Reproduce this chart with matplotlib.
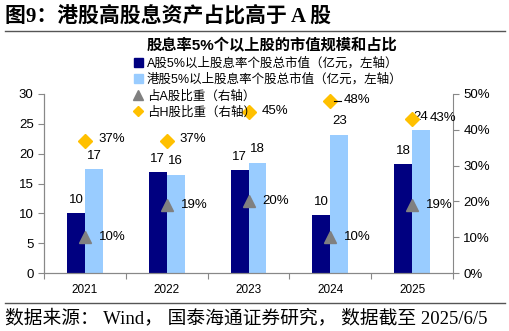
import numpy as np
import matplotlib.pyplot as plt
from matplotlib.lines import Line2D
from matplotlib.patches import Patch

years = ['2021', '2022', '2023', '2024', '2025']
a_cap = [10.1, 16.9, 17.3, 9.7, 18.3]
h_cap = [17.4, 16.5, 18.5, 23.2, 24.0]
a_share = [10, 19, 20, 10, 19]
h_share = [37, 37, 45, 48, 43]
a_cap_lbl = ['10', '17', '17', '10', '18']
h_cap_lbl = ['17', '16', '18', '23', '24']

cjk = ['Liberation Sans', 'Noto Sans CJK SC']
serif = ['Liberation Serif', 'Noto Sans CJK SC']
plt.rcParams['font.family'] = cjk

fig = plt.figure(figsize=(5.1, 3.31), dpi=100)
ax = fig.add_axes([44/510, 1-273/331, 409/510, 179/331])
ax2 = ax.twinx()

x = np.arange(len(years))
w = 0.22
ax.bar(x - w/2, a_cap, w, color='#000080', zorder=2)
ax.bar(x + w/2, h_cap, w, color='#99CCFF', zorder=2)
for i in x:
    ax.text(i - w/2, a_cap[i] + 1.2, a_cap_lbl[i], ha='center', va='bottom', fontsize=9.5)
    ax.text(i + w/2, h_cap[i] + 1.2, h_cap_lbl[i], ha='center', va='bottom', fontsize=9.5)

ax2.plot(x, a_share, linestyle='none', marker='^', color='#808080', markersize=9, zorder=3)
ax2.plot(x, h_share, linestyle='none', marker='D', color='#FFC000', markersize=7, zorder=3)
h_off = [0.16, 0.16, 0.16, 0.16, 0.22]
for i in x:
    ax2.text(i + 0.17, a_share[i], '%d%%' % a_share[i], va='center', fontsize=9.5)
    ax2.text(i + h_off[i], h_share[i] + 0.3, '%d%%' % h_share[i], va='center', fontsize=9.5)
# short leader line next to the 2024 diamond
ax2.plot([3.05, 3.13], [48, 48], color='black', lw=0.8, zorder=4)

ax.set_xlim(-0.5, 4.5)
ax.set_ylim(0, 30)
ax.set_yticks(range(0, 31, 5))
ax2.set_ylim(0, 50)
ax2.set_yticks(range(0, 51, 10))
ax2.set_yticklabels(['%d%%' % v for v in range(0, 51, 10)])
ax.set_xticks(np.arange(-0.5, 5, 1))
ax.set_xticklabels([])
ax.set_xticks(x, minor=True)
ax.set_xticklabels(years, minor=True)
ax.tick_params(axis='x', which='minor', length=0, pad=8, labelsize=8.5)
ax.tick_params(axis='x', which='major', length=4, color='#888888')
ax.tick_params(axis='y', length=4, color='#888888', labelsize=9.5)
ax2.tick_params(axis='y', length=4, color='#888888', labelsize=9.5)
for a in (ax, ax2):
    a.spines['top'].set_visible(False)
    for s in ('left', 'right', 'bottom'):
        a.spines[s].set_color('#888888')
ax.spines['right'].set_visible(False)

handles = [
    Patch(color='#000080', label='A股5%以上股息率个股总市值（亿元，左轴）'),
    Patch(color='#99CCFF', label='港股5%以上股息率个股总市值（亿元，左轴）'),
    Line2D([], [], linestyle='none', marker='^', color='#808080', markersize=7, label='占A股比重（右轴）'),
    Line2D([], [], linestyle='none', marker='D', color='#FFC000', markersize=5, label='占H股比重（右轴）'),
]
leg = ax2.legend(handles=handles, loc='upper left', bbox_to_anchor=(0.205, 1.24), frameon=False,
                 fontsize=9, handlelength=0.7, handleheight=0.7, handletextpad=0.3, labelspacing=0.32,
                 borderpad=0)

fig.text(5/510, 1-16/331, '图9：港股高股息资产占比高于 A 股', fontsize=15, fontweight='bold',
         va='center', family=serif)
fig.add_artist(Line2D([5/510, 505/510], [1-31/331, 1-31/331], color='#555555', lw=1))
fig.text(272/510, 1-46/331, '股息率5%个以上股的市值规模和占比', fontsize=11, fontweight='bold',
         ha='center', va='center')
fig.add_artist(Line2D([5/510, 505/510], [1-303/331, 1-303/331], color='#555555', lw=1))
fig.text(5/510, 1-318/331, '数据来源： Wind， 国泰海通证券研究， 数据截至 2025/6/5', fontsize=13.5,
         va='center', family=serif)

fig.savefig('out.png', dpi=100)
